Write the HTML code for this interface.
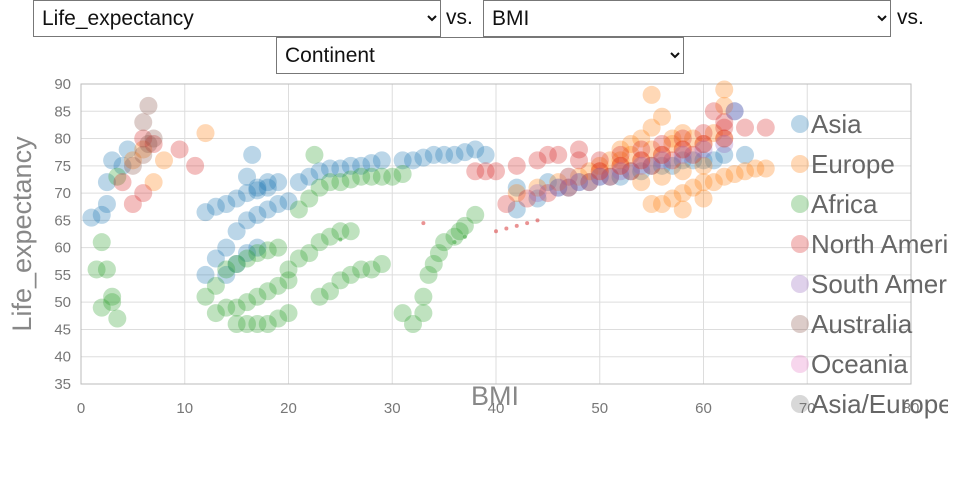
<!DOCTYPE html>
<html><head><meta charset="utf-8"><style>
body{margin:0;width:960px;height:500px;background:#fff;font-family:"Liberation Sans","DejaVu Sans",sans-serif;overflow:hidden;position:relative}
select{position:absolute;height:37px;font-size:21px;font-family:"Liberation Sans",sans-serif;background:#fff;border:1px solid #777;padding:0 4px;color:#111}
.vs{position:absolute;font-size:21px;color:#111}
svg{position:absolute;left:0;top:0}
</style></head><body>
<select style="left:33px;top:0;width:408px"><option>Life_expectancy</option></select>
<span class="vs" style="left:446px;top:6px">vs.</span>
<select style="left:483px;top:0;width:408px"><option>BMI</option></select>
<span class="vs" style="left:897px;top:6px">vs.</span>
<select style="left:276px;top:37px;width:408px"><option>Continent</option></select>
<svg id="chart" width="960" height="500"></svg>
<script>
const xTicks=[0,10,20,30,40,50,60,70,80];
const yTicks=[35,40,45,50,55,60,65,70,75,80,85,90];
const continents=["Asia","Europe","Africa","North America","South America","Australia","Oceania","Asia/Europe"];
const colors=["#1f77b4","#ff7f0e","#2ca02c","#d62728","#9467bd","#8c564b","#e377c2","#7f7f7f"];
const asiaX=[1,2,2.5,2.5,3,4,4.5,12,13,14,15,16,17,18,19,12,13,14,15,16,17,18,19,20,16,16.5,17,18,14,15,16,17,21,22,23,24,25,26,27,28,29,31,32,33,34,35,36,37,38,39,42,44,46,48,50,52,54,56,58,60,62,64,63,42,45,47,49,51,53,55,57,59,61];
const asiaY=[65.5,66,68,72,76,75,78,66.5,67.5,68,69,70,70.5,71,72,55,58,60,63,65,66,67,68,68.5,73,77,71,72,55,57,59,60,72,73,74,74.5,74.5,75,75,75.5,76,76,76,76.5,77,77,77,77.5,78,77,67,69,71,72,73,73,74,75,76,76,77,77,85,71,72,71,72,73,74,75,75,76,76];
const europeX=[5,6,7,8,12,42,44,46,48,50,51,52,53,54,55,56,55,57,58,62,62,55,56,57,58,59,60,61,62,63,64,65,66,58,60,52,54,56,58,60,62,49,47,54,56,58,60,50,52,53,55,57,59,61];
const europeY=[76,78,72,76,81,70,71,72,73,74,76,78,79,80,82,84,88,80,81,89,86,68,68,69,70,71,72,72,73,73.5,74,74.5,74.5,67,69,75,76,77,78,79,80,74,73,72,73,74,75,75,76,77,78,79,80,81];
const africaX=[1.5,2,2.5,2,3,3,3.5,3.5,12,13,14,15,16,17,18,19,13,14,15,16,17,18,19,20,15,16,17,18,19,20,20,21,22,23,24,25,26,23,24,25,26,27,28,29,21,22,23,24,25,26,27,28,29,30,31,22.5,31,32,33,33,33.5,34,34.5,35,36,36.5,37,38];
const africaY=[56,61,56,49,50,51,47,73,51,53,56,57,58,59,59.5,60,48,49,49,50,51,52,53,54,46,46,46,46,47,48,56,58,59,61,62,63,63,51,52,54,55,56,56,57,67,69,71,72,72,72.5,73,73,73,73,73.5,77,48,46,48,51,55,57,59,61,62,63,64,66];
const northAmX=[4,5,6,6,7,9.5,11,38,39,40,42,44,46,48,50,52,54,56,58,60,62,64,66,61,62,41,43,45,47,49,51,53,55,57,59,45,48,50,52,54,56,58,60,62];
const northAmY=[72,68,70,80,79,78,75,74,74,74,75,76,77,78,76,77,78,79,80,81,82,82,82,85,83,68,69,70,71,72,73,74,75,76,77,77,76,74,75,76,77,78,79,80];
const southAmX=[44,46,48,50,52,54,56,58,60,62,63,47];
const southAmY=[70,71,72,73,74,75,76,77,78,79,85,73];
const australiaX=[5,6,6,6.5,6.5,7];
const australiaY=[75,77,83,86,79,80];
const smallX=[33,36,37,25,40,41,42,43,44];
const smallY=[64.5,61,62,61.5,63,63.5,64,64.5,65];
const smallColor=["#d62728","#2ca02c","#2ca02c","#2ca02c","#d62728","#d62728","#d62728","#d62728","#d62728"];

const L=81,R=911,T=84,B=384;
const sx=v=>L+(v-0)/(80-0)*(R-L);
const sy=v=>B-(v-35)/(90-35)*(B-T);
const svg=document.getElementById('chart');
const NS='http://www.w3.org/2000/svg';
function mk(tag,attrs,parent){const e=document.createElementNS(NS,tag);for(const k in attrs)e.setAttribute(k,attrs[k]);(parent||svg).appendChild(e);return e;}
const defs=mk('defs',{});
const cp=mk('clipPath',{id:'legclip'},defs);
mk('rect',{x:780,y:90,width:168,height:340},cp);
const grid=mk('g',{});


xTicks.forEach(t=>{
  const l=mk('line',{x1:sx(t),x2:sx(t),y1:T,y2:B,stroke:'#ddd','stroke-width':1},grid);
  
  
  const tx=mk('text',{x:sx(t),y:B+29,'text-anchor':'middle','font-size':15,fill:'#777'});
  tx.textContent=t;
  
  
});
yTicks.forEach(t=>{
  const l=mk('line',{x1:L,x2:R,y1:sy(t),y2:sy(t),stroke:'#ddd','stroke-width':1},grid);
  
  
  const tx=mk('text',{x:L-10,y:sy(t)+5,'text-anchor':'end','font-size':15,fill:'#777'});
  tx.textContent=t;
  
  
});
const frame=mk('rect',{x:L,y:T,width:R-L,height:B-T,fill:'none',stroke:'#bbb'});


const series=[[asiaX,asiaY,0],[europeX,europeY,1],[africaX,africaY,2],[northAmX,northAmY,3],[southAmX,southAmY,4],[australiaX,australiaY,5]];
series.forEach(([xs,ys,ci])=>{
  const g=mk('g',{});
  
  
  xs.forEach((x,i)=>{
    const c=mk('circle',{cx:sx(x),cy:sy(ys[i]),r:9,fill:colors[ci],'fill-opacity':0.3},g);
    
    
  });
});
smallX.forEach((x,i)=>{
  const c=mk('circle',{cx:sx(x),cy:sy(smallY[i]),r:2,fill:smallColor[i],'fill-opacity':0.5});
  
  
});
const leg=mk('g',{'clip-path':'url(#legclip)'});


continents.forEach((n,i)=>{
  const y=124+i*40;
  const c=mk('circle',{cx:800,cy:y,r:9,fill:colors[i],'fill-opacity':0.3},leg);
  
  
  const t=mk('text',{x:811,y:y+9,'font-size':26,fill:'#666'},leg);
  t.textContent=n;
  
  
});
const xt=mk('text',{x:495,y:405,'text-anchor':'middle','font-size':27,fill:'#888'});
xt.textContent='BMI';


const yt=mk('text',{x:0,y:0,'text-anchor':'middle','font-size':27,fill:'#888',transform:'translate(31,234) rotate(-90)'});
yt.textContent='Life_expectancy';


</script>
</body></html>
